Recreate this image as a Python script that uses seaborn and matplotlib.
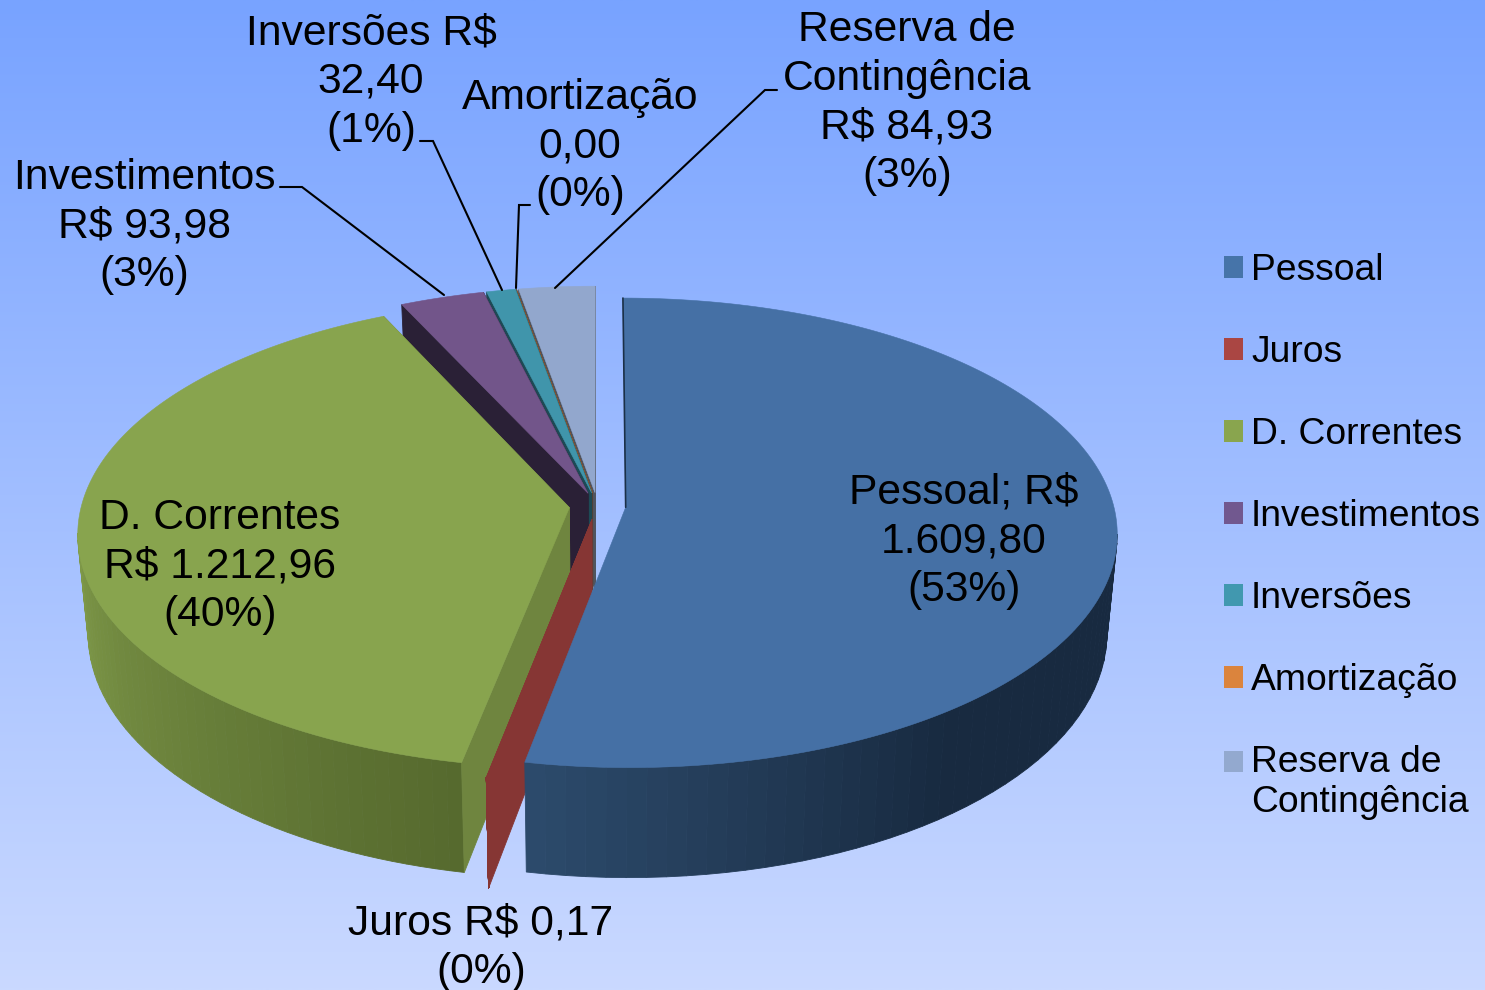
import matplotlib
matplotlib.use("Agg")
import matplotlib.pyplot as plt
from matplotlib.patches import Patch
import numpy as np
import seaborn as sns

categorias = ["Pessoal", "Juros", "D. Correntes", "Investimentos", "Inversões", "Amortização", "Reserva de\nContingência"]
valores = [1609.80, 0.17, 1212.96, 93.98, 32.40, 0.00, 84.93]
rotulos = ["Pessoal; R$\n1.609,80\n(53%)", "Juros R$ 0,17\n(0%)", "D. Correntes\nR$ 1.212,96\n(40%)",
           "Investimentos\nR$ 93,98\n(3%)", "Inversões R$\n32,40\n(1%)", "Amortização\n0,00\n(0%)",
           "Reserva de\nContingência\nR$ 84,93\n(3%)"]

cores_legenda = ["#4674a9", "#aa4643", "#89a54e", "#71588f", "#4198af", "#db843d", "#93a9cf"]
cores_topo = ["#4570a5", "#863634", "#88a44e", "#72558a", "#4095ab", "#b0682f", "#92a7cd"]
cores_corte = ["#1b3048", "#863634", "#6f853f", "#2a2036", "#1d4a55", "#5c4030", "#50555f"]
parede_esq = ["#2c4a6b", "#863634", "#7e9848", "#2a2036", "#1d4a55", "#5c4030", "#50555f"]
parede_dir = ["#182a40", "#863634", "#566a2e", "#2a2036", "#1d4a55", "#5c4030", "#50555f"]

# posicoes dos rotulos e linhas de chamada (em pixels)
pos_rotulos = [(964, 541.5), (481, 948), (220, 566.5), (144, 226.5), (371, 82), (580, 146.5), (907, 103)]
chamadas = [[(280, 187), (302, 187), (444, 295)],
            [(420, 141), (433, 141), (502, 290)],
            [(530, 205), (519, 205), (516, 288)],
            [(777, 90), (765, 90), (555, 288)]]

# geometria da pizza 3D
CX, CY = 597.5, 506
RX, RY = 488, 231.7
DIST = 9.2      # perspectiva
EXPL = 0.058    # explosao das fatias
ALTURA = 98.0
KX = 0.98
VX = 600


def projeta(u, v, base=False):
    s = DIST / (DIST + v)
    x = CX + RX * u * s
    y = CY - RY * v * s
    if base:
        x = VX + (x - VX) * KX
        y = y + ALTURA * s
    return x, y


def borda(t, ox, oy, base=False):
    return projeta(ox + np.sin(t), oy + np.cos(t), base)


sns.set_theme(style="white")
plt.rcParams["font.family"] = ["Liberation Sans", "DejaVu Sans"]

fig = plt.figure(figsize=(14.85, 9.9), dpi=100)
ax = fig.add_axes([0, 0, 1, 1])

fundo = np.zeros((256, 2, 3))
fundo[:, :, 0] = np.linspace(120, 202, 256)[:, None] / 255
fundo[:, :, 1] = np.linspace(163, 217, 256)[:, None] / 255
fundo[:, :, 2] = 1.0
ax.imshow(fundo, extent=[0, 1485, 990, 0], aspect="auto", interpolation="bilinear")

total = sum(valores)
fim = np.cumsum(valores) / total * 2 * np.pi
ini = np.concatenate([[0], fim[:-1]])


def desenha_corte(i, t, ox, oy):
    x0, y0 = projeta(ox, oy)
    x1, y1 = borda(t, ox, oy)
    x2, y2 = borda(t, ox, oy, True)
    x3, y3 = projeta(ox, oy, True)
    ax.fill([x0, x1, x2, x3], [y0, y1, y2, y3], color=cores_corte[i], lw=0.6)


def desenha_parede(i, t0, t1, ox, oy):
    ts = np.linspace(t0, t1, 90)
    vis = ts[np.cos(ts) < -0.1]
    if len(vis) < 2:
        return
    if i == 0:
        tons = sns.blend_palette([parede_dir[i], parede_dir[i], parede_esq[i]], len(vis) - 1)
    else:
        tons = sns.blend_palette([parede_dir[i], parede_esq[i]], len(vis) - 1)
    for k in range(len(vis) - 1):
        a = vis[k:k + 2]
        xt, yt = borda(a, ox, oy)
        xb, yb = borda(a, ox, oy, True)
        ax.fill(np.r_[xt, xb[::-1]], np.r_[yt, yb[::-1]], color=tons[k], lw=0.6)


def desenha_topo(i, t0, t1, ox, oy):
    ts = np.linspace(t0, t1, 200)
    x, y = borda(ts, ox, oy)
    x0, y0 = projeta(ox, oy)
    ax.fill(np.r_[x0, x], np.r_[y0, y], color=cores_topo[i], lw=0.4)


# de tras para frente
for i in [6, 5, 4, 3, 2, 1, 0]:
    meio = (ini[i] + fim[i]) / 2
    ox, oy = EXPL * np.sin(meio), EXPL * np.cos(meio)
    desenha_parede(i, ini[i], fim[i], ox, oy)
    if i == 2:
        desenha_corte(i, fim[i], ox, oy)
        desenha_corte(i, ini[i], ox, oy)
    elif i == 1:
        desenha_corte(i, ini[i], ox, oy)
    elif i != 0:
        desenha_corte(i, ini[i], ox, oy)
        desenha_corte(i, fim[i], ox, oy)
    desenha_topo(i, ini[i], fim[i], ox, oy)
    if i == 0:
        # so a aresta escura do corte aparece
        xa, ya = projeta(ox, oy)
        xb, yb = borda(ini[i], ox, oy)
        ax.plot([xa, xb], [ya, yb], color=cores_corte[i], lw=1.2)

for linha in chamadas:
    ax.plot([p[0] for p in linha], [p[1] for p in linha], color="black", lw=1.5, solid_joinstyle="miter")

for txt, (x, y) in zip(rotulos, pos_rotulos):
    ax.text(x, y, txt, fontsize=30.7, color="black", ha="center", va="center", linespacing=1.28)

handles = [Patch(facecolor=c, edgecolor="none") for c in cores_legenda]
leg = ax.legend(handles, categorias, loc="upper left", bbox_to_anchor=(1190 / 1485, 1 - 220 / 990),
                bbox_transform=ax.transAxes, frameon=False, fontsize=26.8, handlelength=0.52, handleheight=0.52,
                handletextpad=0.22, labelspacing=1.262, borderpad=0.4, labelcolor="black")
for t in leg.get_texts():
    t.set_linespacing(1.18)
# quadrado da ultima entrada fica na primeira linha do texto
h = leg.legend_handles[-1]
h.set_y(h.get_y() + 15.5)

ax.set_xlim(0, 1485)
ax.set_ylim(990, 0)
ax.axis("off")
fig.savefig("out.png", dpi=100)
